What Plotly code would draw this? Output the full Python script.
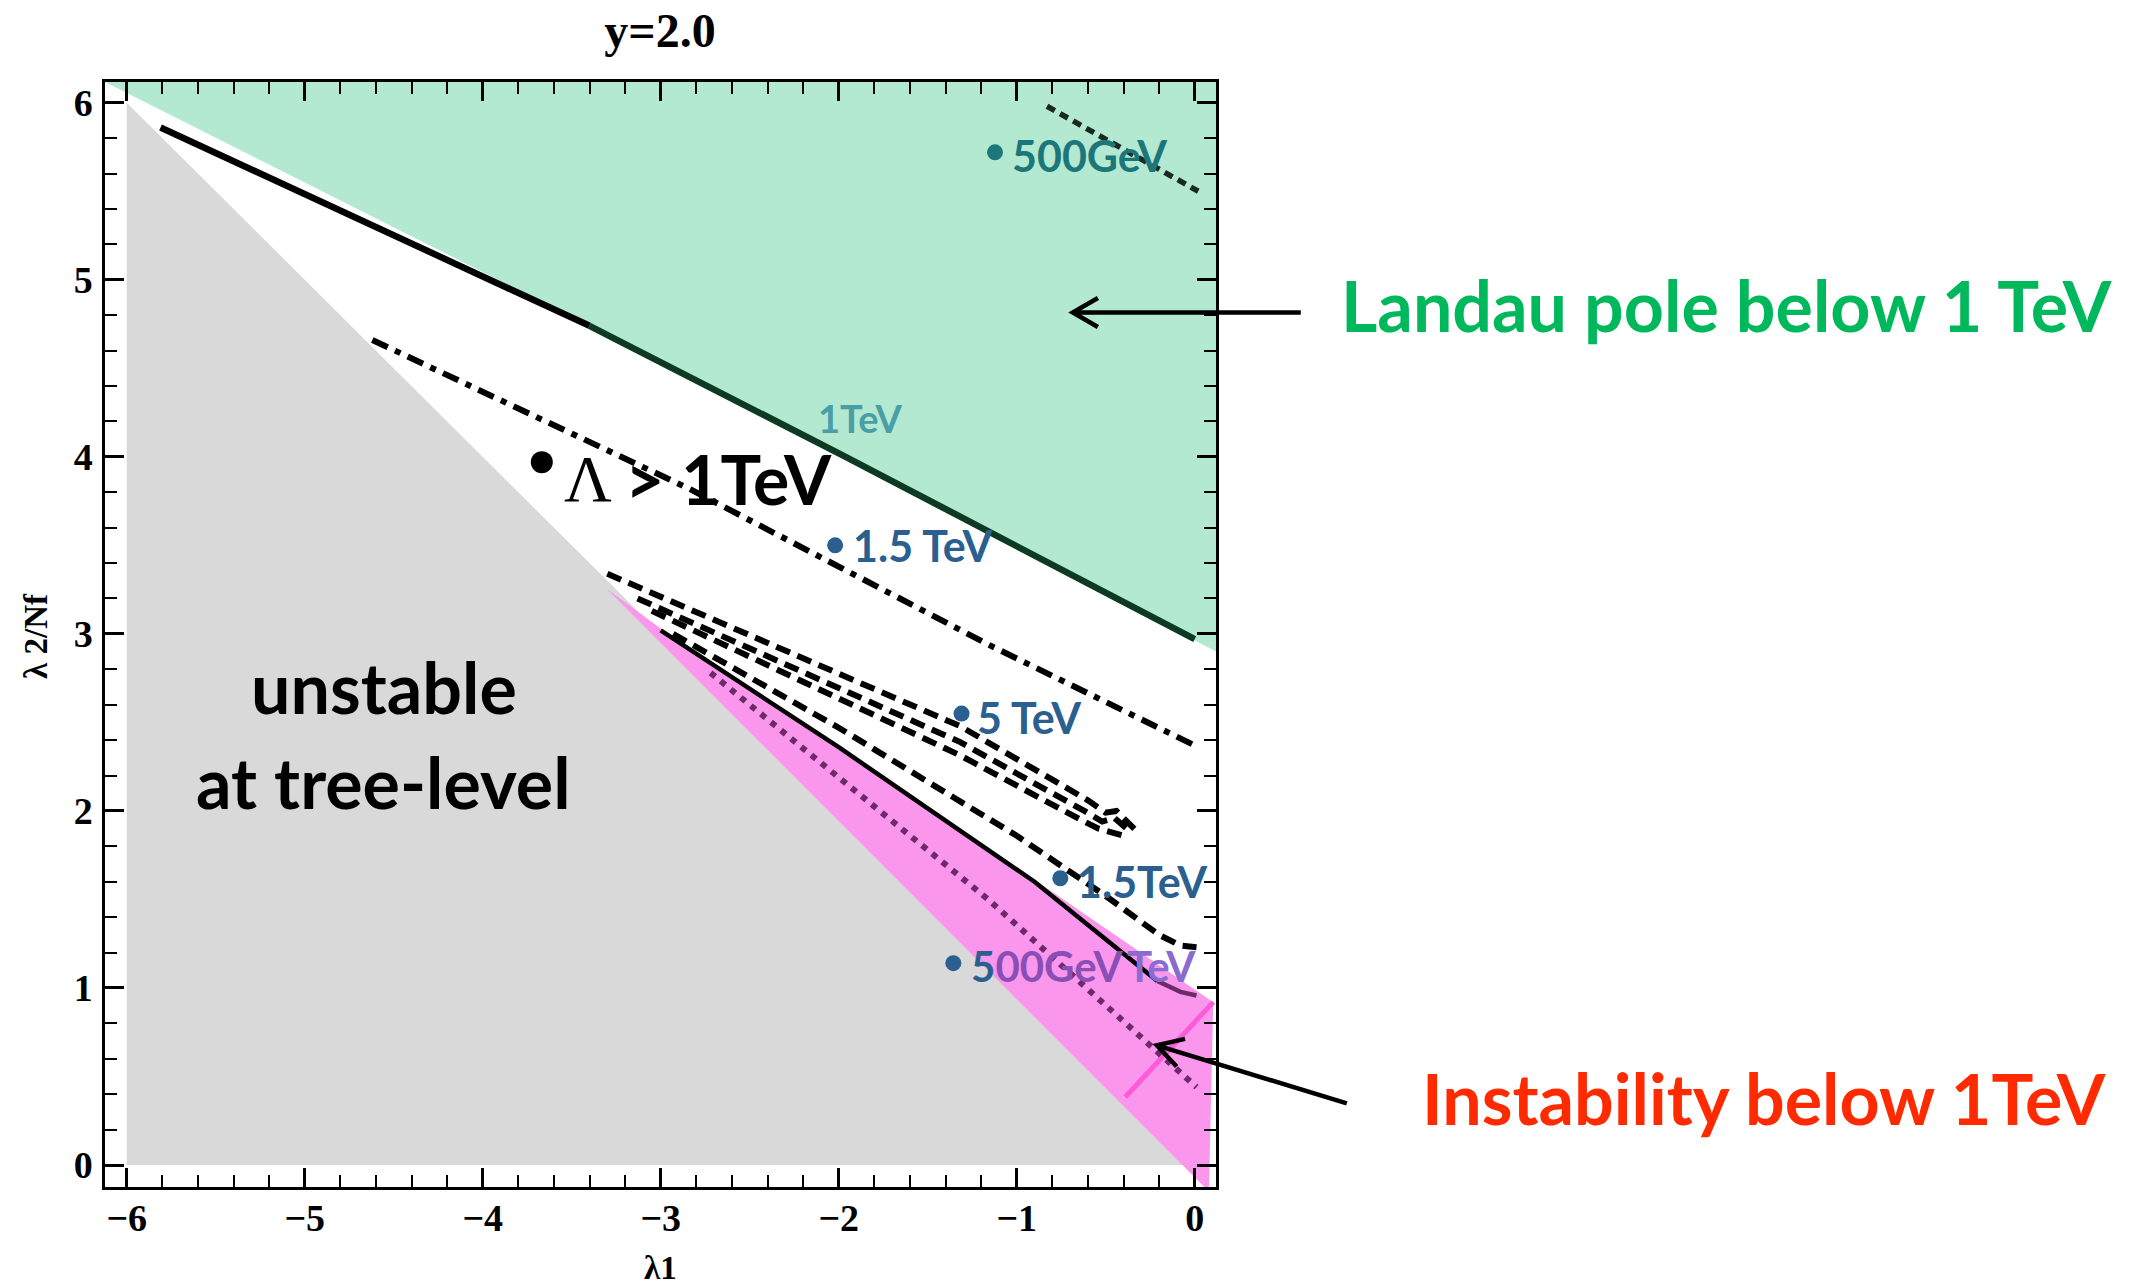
import math
import plotly.graph_objects as go

# ---------------- data (λ1, λ2/Nf) ----------------
# regions
tree_x = [-6.0, -6.0, 0.0]
tree_y = [0.0, 6.0, 0.0]
landau_x = [-6.122, -3.4, -1.98, 0.0, 0.12, 0.12, -6.122]
landau_y = [6.117, 4.74, 4.01, 2.96, 2.90, 6.117, 6.117]
instab_x = [-3.305, -3.0, -2.0, -0.9, 0.104, 0.08, -3.305]
instab_y = [3.257, 3.03, 2.37, 1.61, 0.92, -0.15, 3.257]
cut_x = [-0.39, 0.104]
cut_y = [0.384, 0.92]

# contour lines
tev1_x = [-5.81, -4.6, -3.4, -1.98, 0.0]
tev1_y = [5.86, 5.30, 4.74, 4.01, 2.97]
gev500_top_x = [-0.83, 0.02]
gev500_top_y = [5.98, 5.50]
tev15_x = [-4.62, -2.84, -1.16, 0.0]
tev15_y = [4.66, 3.82, 2.94, 2.37]
tev5a_x = [-3.30, -1.32, -0.60, -0.50, -0.44, -0.33]
tev5a_y = [3.34, 2.48, 2.06, 1.99, 2.00, 1.89]
tev5b_x = [-3.13, -1.32, -0.62, -0.52, -0.45, -0.36]
tev5b_y = [3.20, 2.39, 2.00, 1.94, 1.96, 1.88]
tev5c_x = [-3.05, -1.32, -0.64, -0.54, -0.40]
tev5c_y = [3.13, 2.315, 1.95, 1.90, 1.86]
tev15low_x = [-2.93, -2.0, -1.0, -0.5, -0.2, -0.08, 0.01]
tev15low_y = [3.00, 2.47, 1.86, 1.52, 1.30, 1.24, 1.23]
stab1_x = [-3.0, -2.0, -0.9, -0.21, -0.08, 0.01]
stab1_y = [3.02, 2.36, 1.60, 1.04, 0.978, 0.958]
gev500_low_x = [-2.72, -1.16, 0.01]
gev500_low_y = [2.78, 1.50, 0.44]

# label dots
dot_x = [-1.122, -3.668, -2.02, -1.31, -0.755, -1.356]
dot_y = [5.72, 3.97, 3.50, 2.55, 1.62, 1.14]
dot_size = [16, 22, 16, 16, 16, 16]
dot_color = ["#1c767a", "#000000", "#2a5f8f", "#2a5f8f", "#2a5f8f", "#2a5f8f"]

x_ticks = [-6, -5, -4, -3, -2, -1, 0]
y_ticks = [0, 1, 2, 3, 4, 5, 6]

XR = [-6.122, 0.1196]
YR = [-0.124, 6.117]
W_PX, H_PX = 2148, 1286
ML, MR, MT, MB = 105, 932, 82, 99
PW = W_PX - ML - MR
PH = H_PX - MT - MB

GREEN = "#b3e9d1"
GRAY = "#d9d9d9"
PINK = "#fa97ec"
PURPLE = "#6e2a68"

fig = go.Figure()

def fill(xs, ys, color):
    fig.add_trace(go.Scatter(x=xs, y=ys, fill="toself", fillcolor=color,
                             mode="lines", line=dict(width=0), hoverinfo="skip",
                             showlegend=False))

def line(xs, ys, color="black", width=6, dash="solid"):
    fig.add_trace(go.Scatter(x=xs, y=ys, mode="lines",
                             line=dict(color=color, width=width, dash=dash),
                             hoverinfo="skip", showlegend=False))

fill(tree_x, tree_y, GRAY)
fill(landau_x, landau_y, GREEN)
fill(instab_x, instab_y, PINK)
line(cut_x, cut_y, "#ff5ad8", 5)

# 1 TeV Landau contour: black left part, dark green along the green boundary
k = tev1_x.index(-3.4)
line(tev1_x[:k + 1], tev1_y[:k + 1], "black", 6.5)
line(tev1_x[k:], tev1_y[k:], "#0c3a22", 6.5)
line(gev500_top_x, gev500_top_y, "#1a2a22", 5.5, "9px,6px")
line(tev15_x, tev15_y, "black", 6, "17px,8px,6px,8px")
for xs, ys in [(tev5a_x, tev5a_y), (tev5b_x, tev5b_y), (tev5c_x, tev5c_y)]:
    line(xs, ys, "black", 6, "15px,8px")
line(tev15low_x, tev15low_y, "black", 6, "15px,8px")
m = 3
line(stab1_x[:m + 1], stab1_y[:m + 1], "black", 4.5)
line(stab1_x[m:], stab1_y[m:], PURPLE, 4.5)
line(gev500_low_x, gev500_low_y, PURPLE, 6, "6px,7px")

fig.add_trace(go.Scatter(x=dot_x, y=dot_y, mode="markers", cliponaxis=False, opacity=1,
                         marker=dict(size=dot_size, color=dot_color, opacity=1,
                                     line=dict(width=0)),
                         hoverinfo="skip", showlegend=False))

SANS = "Lato"
SERIF = "Liberation Serif"

def label(x, y, text, color, size=42, family=SANS, weight="bold", xanchor="left",
          ref="x", angle=0):
    fig.add_annotation(x=x, y=y, xref="x" if ref == "x" else "paper",
                       yref="y" if ref == "x" else "paper",
                       text=text, showarrow=False, xanchor=xanchor, yanchor="middle",
                       textangle=angle,
                       font=dict(family=family, size=size, color=color, weight=weight))

label(-1.04, 5.70, "500GeV", "#1c767a", 43)
label(-1.875, 4.22, "1TeV", "#4a9ea6", 38, xanchor="center")
label(-3.411, 3.875, "Λ", "black", 66, family=SERIF, weight="normal", xanchor="center")
label(-3.212, 3.875, "&gt; 1TeV", "black", 68)
label(-1.932, 3.50, "1.5 TeV", "#2a5f8f", 43)
label(-1.232, 2.53, "5 TeV", "#2a5f8f", 43)
label(-0.67, 1.60, "1.5TeV", "#2a5f8f", 43)
label(-1.27, 1.125, "5<span style='color:#8a4fb6'>00GeV</span>", "#2a5f8f", 42)
label(-0.39, 1.125, "TeV", "#8a6cd0", 42)
label(-4.557, 2.70, "unstable", "black", 70, xanchor="center")
label(-4.557, 2.165, "at tree-level", "black", 70, xanchor="center")

# outside texts (paper coords)
def px2paper(px, py):
    return ((px - ML) / PW, (MT + PH - py) / PH)

lx, ly = px2paper(1726, 305)
label(lx, ly, "Landau pole below 1 TeV", "#00b85c", 70, xanchor="center", ref="paper")
ix, iy = px2paper(1764, 1098)
label(ix, iy, "Instability below 1TeV", "#ff2a00", 70, xanchor="center", ref="paper")

# axis titles
tx, ty = px2paper(660, 1268)
label(tx, ty, "λ1", "black", 33, family=SERIF, xanchor="center", ref="paper")
yx, yy = px2paper(36, 636)
label(yx, yy, "λ 2/Nf", "black", 33, family=SERIF, xanchor="center", ref="paper", angle=-90)

# arrows (head in data coords, tail as pixel offset), drawn as paper paths
def d2paper(x, y):
    return ((x - XR[0]) / (XR[1] - XR[0]), (y - YR[0]) / (YR[1] - YR[0]))

def arrow(hx, hy, tdx, tdy, arm=29, ang=30):
    px, py = d2paper(hx, hy)
    tx_, ty_ = px + tdx / PW, py - tdy / PH
    L = math.hypot(tdx, tdy)
    ux, uy = tdx / L, tdy / L
    pts = []
    for s in (1, -1):
        a = math.radians(ang * s)
        rx = ux * math.cos(a) - uy * math.sin(a)
        ry = ux * math.sin(a) + uy * math.cos(a)
        pts.append((px + arm * rx / PW, py - arm * ry / PH))
    path = (f"M {tx_},{ty_} L {px},{py} M {pts[0][0]},{pts[0][1]} L {px},{py} "
            f"L {pts[1][0]},{pts[1][1]}")
    fig.add_shape(type="path", path=path, xref="paper", yref="paper",
                  line=dict(color="black", width=4.5))

arrow(-0.685, 4.815, 228, 0)
arrow(-0.213, 0.676, 190, 58)

axis_common = dict(
    showline=True, linecolor="black", linewidth=2.5, mirror="ticks",
    ticks="inside", ticklen=19, tickwidth=2.5, tickcolor="black",
    showgrid=False, zeroline=False,
    tickfont=dict(family=SERIF, size=38, color="black", weight="bold"),
    minor=dict(ticks="inside", ticklen=12, tickwidth=2, tickcolor="black", dtick=0.2,
               showgrid=False),
)

fig.update_layout(
    width=W_PX, height=H_PX,
    margin=dict(l=ML, r=MR, t=MT, b=MB, autoexpand=False),
    paper_bgcolor="white", plot_bgcolor="white",
    title=dict(text="y=2.0", x=660 / W_PX, xanchor="center", y=1 - 30 / H_PX,
               yanchor="middle", xref="container", yref="container",
               font=dict(family=SERIF, size=48, color="black", weight="bold")),
    xaxis=dict(range=XR, tickvals=x_ticks, ticklabelstandoff=-4, **axis_common),
    yaxis=dict(range=YR, tickvals=y_ticks, ticklabelstandoff=2, **axis_common),
)

fig.write_html("out.html",
               config={"displayModeBar": False},
               post_script="document.body.style.margin='0px';"
                           "document.body.style.overflow='hidden';")
